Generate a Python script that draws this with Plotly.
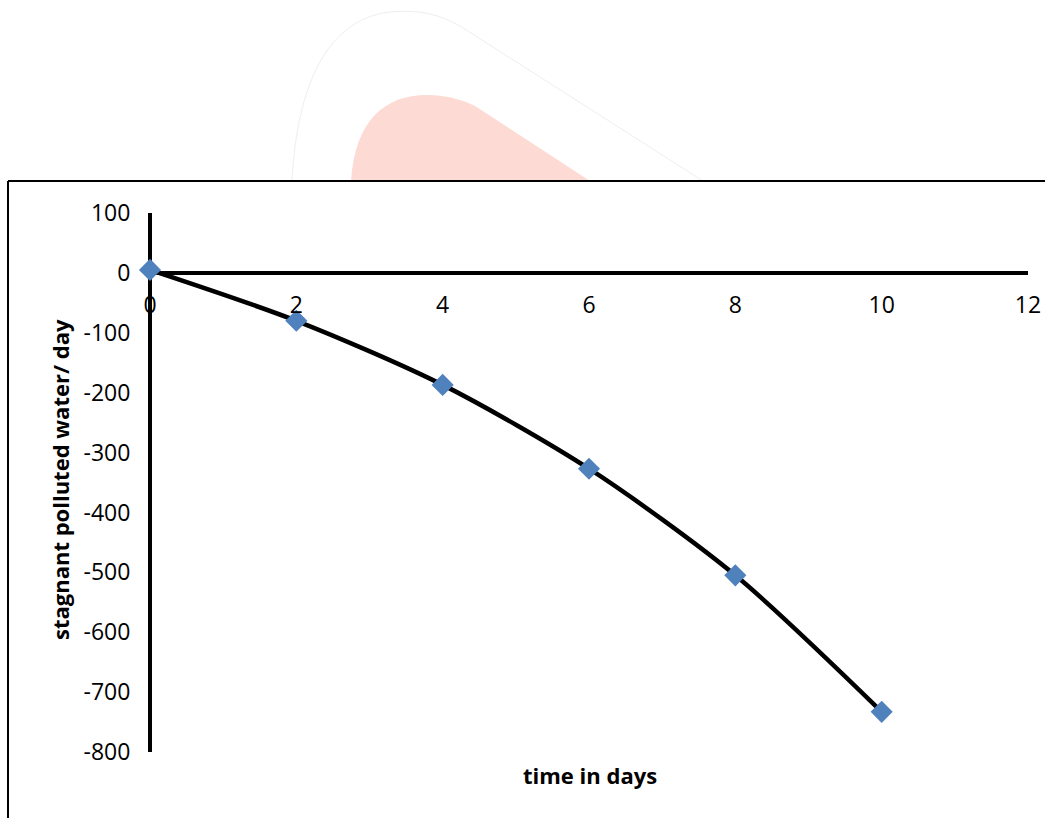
import plotly.graph_objects as go

# Data
days = [0, 2, 4, 6, 8, 10]
water = [5, -80, -187, -327, -505, -733]
x_ticks = [0, 2, 4, 6, 8, 10, 12]
y_ticks = [100, 0, -100, -200, -300, -400, -500, -600, -700, -800]

W, H = 1045, 818
L, R, T, B = 150, 17, 213, 66
PW, PH = W - L - R, H - T - B


def px(x, y):
    return (x - L) / PW, (H - B - y) / PH


def path(cmds):
    out = []
    for c in cmds:
        if isinstance(c, str):
            out.append(c)
        else:
            xx, yy = px(*c)
            out.append(f"{xx:.5f},{yy:.5f}")
    return " ".join(out)


FONT = "Open Sans"

fig = go.Figure()
fig.add_trace(go.Scatter(
    x=days, y=water, mode="lines+markers",
    line=dict(color="black", width=4.5, shape="spline", smoothing=0.8),
    marker=dict(symbol="diamond", size=17, color="#4F81BD"),
    cliponaxis=False, showlegend=False,
))

shapes = [
    # watermark
    dict(type="path", xref="paper", yref="paper", layer="below",
         path=path(["M", (351, 181), "C", (355, 120), (385, 95), (427, 95),
                    "C", (445, 95), (460, 99), (475, 106), "L", (590, 181), "Z"]),
         fillcolor="#FDDAD3", line=dict(width=0)),
    dict(type="path", xref="paper", yref="paper", layer="below",
         path=path(["M", (292, 181), "C", (296, 100), (320, 20), (390, 12),
                    "C", (420, 9), (440, 15), (460, 26), "L", (703, 181)]),
         line=dict(color="#EEEEEE", width=1)),
    # white chart box
    dict(type="rect", xref="paper", yref="paper", layer="below",
         x0=px(8, 0)[0], x1=px(1060, 0)[0], y0=px(0, 830)[1], y1=px(0, 181)[1],
         fillcolor="white", line=dict(width=0)),
    dict(type="line", xref="paper", yref="paper",
         x0=px(8, 0)[0], x1=px(8, 0)[0], y0=px(0, 830)[1], y1=px(0, 181)[1],
         line=dict(color="black", width=2)),
    dict(type="line", xref="paper", yref="paper",
         x0=px(8, 0)[0], x1=px(1060, 0)[0], y0=px(0, 181)[1], y1=px(0, 181)[1],
         line=dict(color="black", width=2)),
]

fig.update_layout(
    width=W, height=H,
    margin=dict(l=L, r=R, t=T, b=B, pad=0, autoexpand=False),
    paper_bgcolor="white", plot_bgcolor="rgba(0,0,0,0)",
    font=dict(family=FONT, color="black", size=23),
    shapes=shapes,
    xaxis=dict(range=[0, 12], tickvals=x_ticks, ticktext=[str(v) for v in x_ticks],
               showgrid=False, zeroline=True, zerolinecolor="black", zerolinewidth=3.5,
               showline=False, anchor="free", position=800 / 900, automargin=False,
               ticks="outside", ticklen=12, tickcolor="rgba(0,0,0,0)",
               tickfont=dict(family=FONT, size=23, color="black")),
    yaxis=dict(range=[-800, 100], tickvals=y_ticks, ticktext=[str(v) for v in y_ticks],
               showgrid=False, zeroline=True, zerolinecolor="black", zerolinewidth=3.5,
               showline=False, ticks="outside", ticklen=14, tickcolor="rgba(0,0,0,0)",
               automargin=False,
               tickfont=dict(family=FONT, size=23, color="black")),
    annotations=[
        dict(text="<b>time in days</b>", xref="paper", yref="paper",
             x=px(590, 0)[0], y=px(0, 775)[1], showarrow=False,
             xanchor="center", yanchor="middle", font=dict(family=FONT, size=22)),
        dict(text="<b>stagnant polluted water/ day</b>", xref="paper", yref="paper",
             x=px(60, 0)[0], y=px(0, 480)[1], showarrow=False, textangle=-90,
             xanchor="center", yanchor="middle", font=dict(family=FONT, size=22)),
    ],
)

fig.write_html("out.html")
